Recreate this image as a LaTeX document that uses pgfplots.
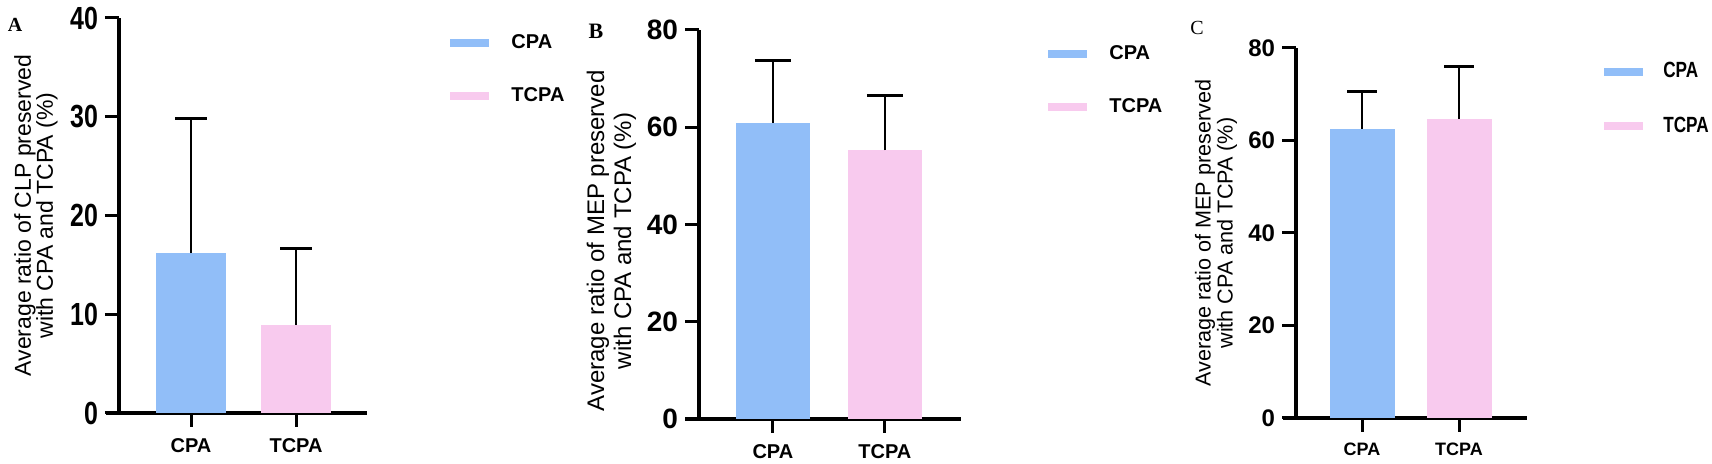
\documentclass[border=0pt]{standalone}
\usepackage{fontspec}
\setmainfont{Liberation Sans}
\newfontfamily\narrowsans{Liberation Sans}[FakeStretch=0.78]
\newfontfamily\serifF{Liberation Serif}
\usepackage{pgfplots}
\pgfplotsset{compat=1.18}
\definecolor{cpablue}{RGB}{145,190,248}
\definecolor{tcpapink}{RGB}{248,202,238}
\pgfplotsset{
  panel/.style={
    scale only axis, anchor=south west, clip=false,
    axis x line*=bottom, axis y line*=left,
    axis line style={line width=2pt, black},
    tick style={line width=1.5pt, black},
    major tick length=7pt, tick align=outside,
    xtick={0,1}, xticklabels={CPA,TCPA},
    xticklabel style={font=\fontsize{10}{10}\selectfont\bfseries, yshift=-2pt},
    ymin=0,
    /pgf/number format/assume math mode=true,
    legend cell align=left,
    legend style={draw=none, fill=none, anchor=north west, inner sep=0pt,
      row sep=14pt, font=\fontsize{10}{10}\selectfont\bfseries,
      /tikz/every odd column/.style={column sep=9pt}},
  },
  mybar/.style={ybar, bar shift=0pt, draw=none, fill=#1,
    legend image code/.code={\fill (0pt,-2pt) rectangle (19.5pt,2pt);},
    error bars/.cd, y dir=plus, y explicit,
    error bar style={line width=1pt, black}},
}
\begin{document}
\begin{tikzpicture}
\useasboundingbox (0,0) rectangle (856pt,232pt);
% Panel A
\begin{axis}[panel, at={(59.5pt,25.5pt)}, width=124pt, height=197.5pt,
  xmin=-0.686, xmax=1.676, ymax=40, ytick={0,10,20,30,40},
  bar width=35pt,
  x axis line style={shorten <=-6.5pt},
  yticklabel style={font=\narrowsans\bfseries\fontsize{16}{16}\selectfont},
  every axis y label/.style={at={(axis description cs:0,0.5)}, xshift=-41.5pt,
    rotate=90, anchor=center, align=center,
    font=\fontsize{11.5}{11}\selectfont},
  ylabel={Average ratio of CLP preserved\\with CPA and TCPA (\%)},
  legend style={at={(axis description cs:1.335,0.97)}},
]
\addplot[mybar=cpablue, error mark options={rotate=90, line width=1.5pt, mark size=8pt, black}]
  coordinates {(0,16.2) +- (0,13.6)};
\addlegendentry{CPA}
\addplot[mybar=tcpapink, error mark options={rotate=90, line width=1.5pt, mark size=8pt, black}]
  coordinates {(1,8.9) +- (0,7.8)};
\addlegendentry{TCPA}
\end{axis}
% Panel B
\begin{axis}[panel, at={(349.5pt,22.5pt)}, width=131pt, height=194.5pt,
  xmin=-0.66, xmax=1.68, ymax=80, ytick={0,20,40,60,80},
  bar width=37pt,
  x axis line style={shorten <=-7pt},
  yticklabel style={font=\bfseries\fontsize{14}{14}\selectfont},
  every axis y label/.style={at={(axis description cs:0,0.4576)}, xshift=-43.75pt,
    rotate=90, anchor=center, align=center,
    font=\fontsize{12}{13.5}\selectfont},
  ylabel={Average ratio of MEP preserved\\with CPA and TCPA (\%)},
  legend style={at={(axis description cs:1.332,0.972)}},
]
\addplot[mybar=cpablue, error mark options={rotate=90, line width=1.5pt, mark size=9pt, black}]
  coordinates {(0,60.9) +- (0,12.9)};
\addlegendentry{CPA}
\addplot[mybar=tcpapink, error mark options={rotate=90, line width=1.5pt, mark size=9pt, black}]
  coordinates {(1,55.3) +- (0,11.3)};
\addlegendentry{TCPA}
\end{axis}
% Panel C
\begin{axis}[panel, at={(648pt,23pt)}, width=115.5pt, height=185pt,
  xmin=-0.68, xmax=1.70, ymax=80, ytick={0,20,40,60,80},
  bar width=32.5pt,
  x axis line style={shorten <=-6.5pt},
  xticklabel style={font=\fontsize{9}{9}\selectfont\bfseries},
  yticklabel style={font=\bfseries\fontsize{12}{12}\selectfont},
  every axis y label/.style={at={(axis description cs:0,0.5)}, xshift=-40pt,
    rotate=90, anchor=center, align=center,
    font=\fontsize{10.8}{11}\selectfont},
  ylabel={Average ratio of MEP preserved\\with CPA and TCPA (\%)},
  legend style={at={(axis description cs:1.333,0.973)},
    font=\narrowsans\bfseries\fontsize{11}{11}\selectfont,
    /tikz/every odd column/.style={column sep=8pt}},
]
\addplot[mybar=cpablue, error mark options={rotate=90, line width=1.5pt, mark size=7.5pt, black}]
  coordinates {(0,62.5) +- (0,8.2)};
\addlegendentry{CPA}
\addplot[mybar=tcpapink, error mark options={rotate=90, line width=1.5pt, mark size=7.5pt, black}]
  coordinates {(1,64.6) +- (0,11.3)};
\addlegendentry{TCPA}
\end{axis}
\node[font=\serifF\bfseries\fontsize{10}{10}\selectfont] at (7.5pt,219.5pt) {A};
\node[font=\serifF\bfseries\fontsize{11}{11}\selectfont] at (298pt,216.5pt) {B};
\node[font=\serifF\fontsize{10}{10}\selectfont] at (598.5pt,218pt) {C};
\end{tikzpicture}
\end{document}
